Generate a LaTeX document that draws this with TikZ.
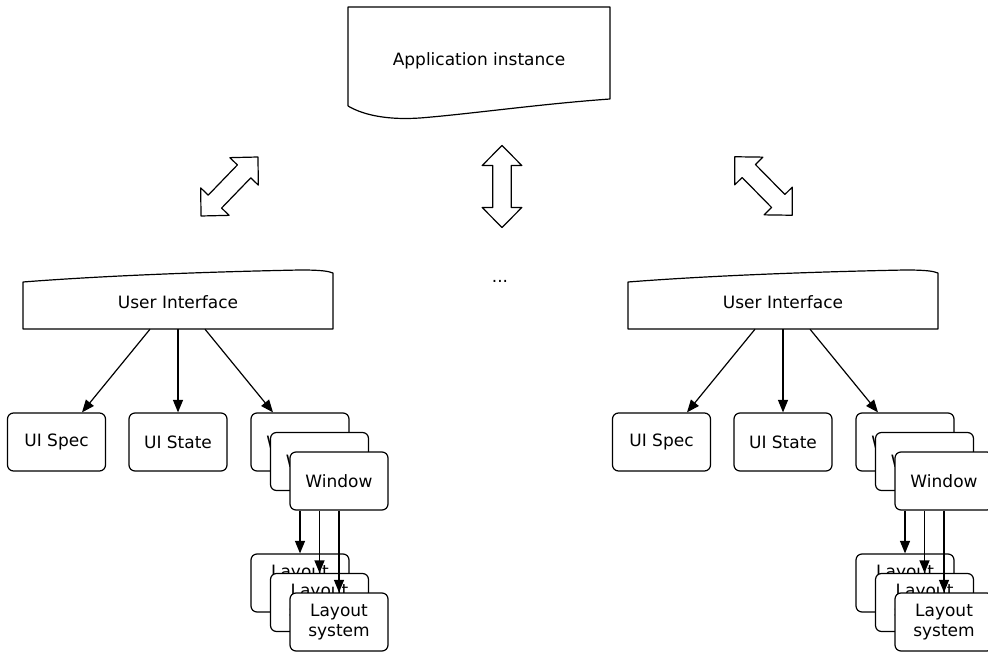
\documentclass[tikz,border=0pt]{standalone}
\usepackage{fontspec}
\setmainfont{DejaVu Sans}
\usetikzlibrary{arrows.meta,calc}

\newcommand{\lblfont}{\fontsize{17}{20}\selectfont}

\tikzset{
  outline/.style={draw=black, line width=1.2pt, line join=round},
  label/.style={inner sep=0pt, font=\lblfont, align=center},
  box/.style={outline, fill=white, rounded corners=6pt, minimum width=98pt,
              minimum height=58pt, inner sep=0pt, font=\lblfont, align=center},
  conn/.style={draw=black, line width=1.2pt, -{Triangle[length=12.5pt,width=10pt]}},
  dbl/.pic={
    \draw[outline, fill=white]
      (-41,0) -- (-21,-19.8) -- (-21,-9.3) -- (21,-9.3) -- (21,-19.8) -- (41,0)
      -- (21,19.8) -- (21,9.3) -- (-21,9.3) -- (-21,19.8) -- cycle;
  }
}

\begin{document}
\begin{tikzpicture}[x=1pt,y=-1pt]
\useasboundingbox (0,0) rectangle (988,652);

% application instance (document shape with wavy bottom)
\draw[outline, fill=white] (348,106) -- (348,7) -- (610,7) -- (610,99)
  .. controls (540,104) and (470,114) .. (420,118)
  .. controls (390,120) and (365,116) .. (348,106);
\node[label, minimum width=262pt, minimum height=106pt] (app) at (479,61) {Application instance};

% block double arrows between the instance and its interfaces
\pic[rotate=46] (linkL) at (229.5,186.5) {dbl};
\pic[rotate=90] (linkM) at (502,186.5) {dbl};
\pic[rotate=-45.5] (linkR) at (763.5,186) {dbl};

\node[label] (dots) at (500,281) {...};

\foreach \dx/\s in {0/L, 605/R} {
  % user interface (document shape with wavy top)
  \draw[outline, fill=white] ({23+\dx},329) -- ({23+\dx},282)
    .. controls ({100+\dx},276) and ({200+\dx},272) .. ({300+\dx},270)
    .. controls ({320+\dx},270) and ({328+\dx},271) .. ({333+\dx},273)
    -- ({333+\dx},329) -- cycle;
  \node[label, minimum width=310pt, minimum height=54pt] (ui\s) at ({178+\dx},302) {User Interface};

  \node[box] (spec\s)  at ({56.5+\dx},442) {UI Spec};
  \node[box] (state\s) at ({178+\dx},442) {UI State};

  % stacked windows
  \node[box] (wA\s) at ({300+\dx},442) {Window};
  \node[box] (wB\s) at ({319.5+\dx},461.5) {Window};
  \node[box] (wC\s) at ({339+\dx},481) {Window};

  % stacked layout systems
  \node[box] (lA\s) at ({300+\dx},583) {Layout\\system};
  \node[box] (lB\s) at ({319.5+\dx},602.5) {Layout\\system};
  \node[box] (lC\s) at ({339+\dx},622) {Layout\\system};

  \draw[conn] ($(ui\s.south)+(-28,0)$) -- ($(spec\s.north)+(25.5,0)$);
  \draw[conn] (ui\s.south) -- (state\s.north);
  \draw[conn] ($(ui\s.south)+(27,0)$) -- ($(wA\s.north)+(-27,0)$);

  \foreach \lay in {lA,lB,lC} {
    \draw[conn] (\lay\s.north |- wC\s.south) -- (\lay\s.north);
  }
}
\end{tikzpicture}
\end{document}
